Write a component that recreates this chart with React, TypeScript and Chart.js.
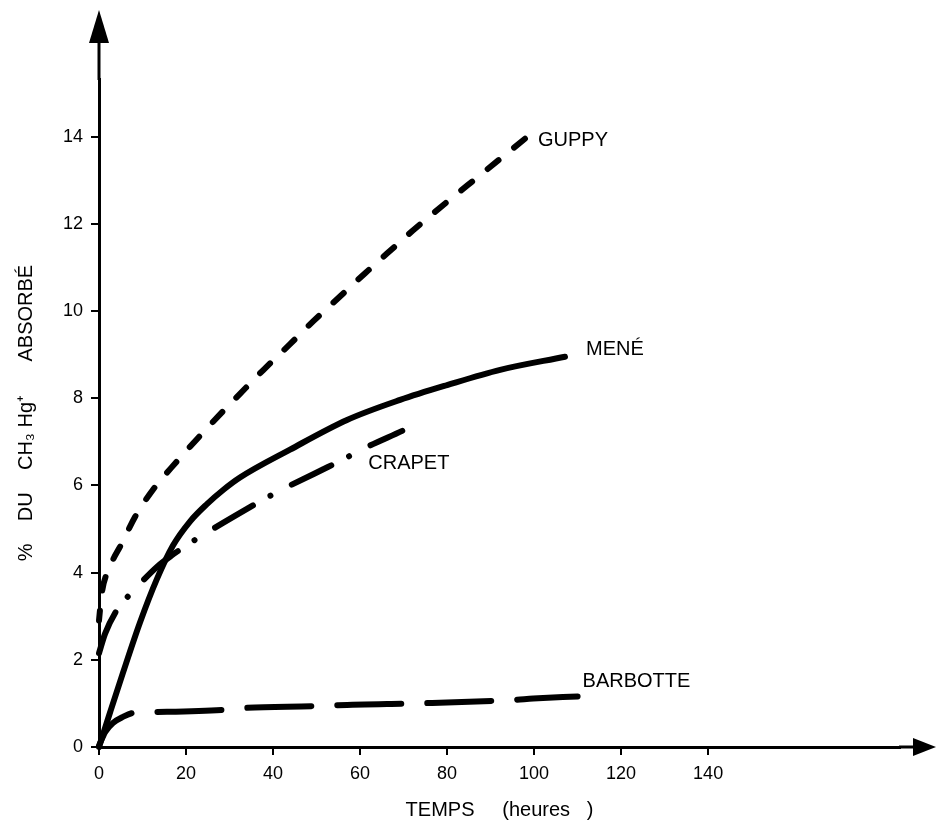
import React, { useEffect, useRef } from "react";
import { Chart, registerables } from "chart.js";

Chart.register(...registerables);

// ---- data ----
const X_TICKS = [0, 20, 40, 60, 80, 100, 120, 140];
const Y_TICKS = [0, 2, 4, 6, 8, 10, 12, 14];

const GUPPY_T = [0, 0.6, 2.5, 5.3, 8.3, 12.4, 17.9, 22.5, 28.3, 32.4, 37.7, 43.9, 49.2, 54.7, 61.1, 66.9, 72.2, 80.7, 86.9, 97.9];
const GUPPY_V = [2.9, 3.5, 4.13, 4.68, 5.28, 5.9, 6.55, 7.06, 7.68, 8.1, 8.64, 9.24, 9.76, 10.27, 10.86, 11.38, 11.85, 12.56, 13.06, 13.95];

const MENE_T = [0, 2.5, 5.5, 9.4, 13.3, 17.0, 20.9, 24.8, 28.6, 32.4, 43.9, 57.0, 69.2, 80.0, 92.2, 107.1];
const MENE_V = [0, 0.78, 1.7, 2.85, 3.85, 4.62, 5.17, 5.57, 5.9, 6.18, 6.82, 7.5, 7.96, 8.3, 8.65, 8.95];

const CRAPET_T = [0, 1.4, 4.1, 6.2, 8.7, 13.3, 16.8, 20.2, 23.2, 34.7, 37.7, 41.6, 52.6, 55.9, 59.3, 69.7];
const CRAPET_V = [2.15, 2.6, 3.14, 3.4, 3.67, 4.13, 4.4, 4.63, 4.82, 5.5, 5.67, 5.88, 6.42, 6.58, 6.77, 7.25];

const BARBOTTE_T = [0, 1.4, 3.2, 5.5, 7.8, 12.4, 28.3, 32.4, 50.1, 54.9, 76.6, 95.2, 99.8, 110];
const BARBOTTE_V = [0.03, 0.34, 0.55, 0.69, 0.78, 0.8, 0.85, 0.89, 0.94, 0.96, 1.01, 1.08, 1.11, 1.16];

const SERIES_NAMES = ["GUPPY", "MENÉ", "CRAPET", "BARBOTTE"];

const X_TITLE = "TEMPS     (heures   )";
const Y_TITLE = "%    DU    CH₃ Hg⁺      ABSORBÉ";

const FONT = "'Liberation Sans', Arial, Helvetica, sans-serif";

const toPoints = (t: number[], v: number[]) => t.map((x, i) => ({ x, y: v[i] }));

// label offsets (pixels) from the last point of each curve
const LABEL_OFFSETS: Record<string, [number, number]> = {
  GUPPY: [13, 2],
  "MENÉ": [21, -7],
  CRAPET: [-34, 33],
  BARBOTTE: [5, -15],
};

const decorPlugin = {
  id: "decor",
  afterDraw(chart: any) {
    const { ctx, chartArea } = chart;
    const xAxisY = chart.scales.y.getPixelForValue(0);
    const yAxisX = chart.scales.x.getPixelForValue(0);
    ctx.save();
    ctx.strokeStyle = "#000";
    ctx.fillStyle = "#000";
    ctx.lineWidth = 3;
    // y-axis extension + arrow
    ctx.beginPath();
    ctx.moveTo(yAxisX, chartArea.top + 1);
    ctx.lineTo(yAxisX, 36);
    ctx.stroke();
    ctx.beginPath();
    ctx.moveTo(yAxisX, 10);
    ctx.lineTo(yAxisX - 10, 43);
    ctx.lineTo(yAxisX + 10, 43);
    ctx.closePath();
    ctx.fill();
    // x-axis extension + arrow
    ctx.beginPath();
    ctx.moveTo(chartArea.right - 1, xAxisY);
    ctx.lineTo(918, xAxisY);
    ctx.stroke();
    ctx.beginPath();
    ctx.moveTo(936, xAxisY);
    ctx.lineTo(913, xAxisY - 9);
    ctx.lineTo(913, xAxisY + 9);
    ctx.closePath();
    ctx.fill();

    // curve labels
    ctx.font = `20px ${FONT}`;
    ctx.textAlign = "left";
    ctx.textBaseline = "middle";
    chart.data.datasets.forEach((ds: any, i: number) => {
      const meta = chart.getDatasetMeta(i);
      const last = meta.data[meta.data.length - 1];
      const off = LABEL_OFFSETS[ds.label] || [10, 0];
      ctx.fillText(ds.label, last.x + off[0], last.y + off[1]);
    });
    ctx.restore();
  },
};

export default function App() {
  const ref = useRef<HTMLCanvasElement | null>(null);

  useEffect(() => {
    if (!ref.current) return;
    const common = {
      borderColor: "#000",
      backgroundColor: "#000",
      borderWidth: 6,
      borderCapStyle: "round" as const,
      borderJoinStyle: "round" as const,
      pointRadius: 0,
      pointHoverRadius: 0,
      cubicInterpolationMode: "monotone" as const,
      fill: false,
      clip: false as any,
    };
    const chart = new Chart(ref.current, {
      type: "line",
      data: {
        datasets: [
          { ...common, label: SERIES_NAMES[0], data: toPoints(GUPPY_T, GUPPY_V), borderDash: [14, 20], borderDashOffset: 4 },
          { ...common, label: SERIES_NAMES[1], data: toPoints(MENE_T, MENE_V) },
          { ...common, label: SERIES_NAMES[2], data: toPoints(CRAPET_T, CRAPET_V), borderDash: [44, 20, 0.01, 24] },
          { ...common, label: SERIES_NAMES[3], data: toPoints(BARBOTTE_T, BARBOTTE_V), borderDash: [64, 26], borderDashOffset: 16 },
        ],
      },
      options: {
        responsive: false,
        animation: false,
        events: [],
        layout: { padding: { top: 79, right: 37, left: 0, bottom: 0 } },
        plugins: {
          legend: { display: false },
          tooltip: { enabled: false },
        },
        scales: {
          x: {
            type: "linear",
            min: 0,
            max: 184.1,
            afterBuildTicks: (s: any) => {
              s.ticks = X_TICKS.map((v) => ({ value: v }));
            },
            afterFit: (s: any) => {
              s.height = 78;
            },
            grid: { display: true, drawOnChartArea: false, drawTicks: true, tickLength: 8, color: "#000", lineWidth: 2 },
            border: { display: true, color: "#000", width: 3 },
            ticks: {
              color: "#000",
              font: { family: FONT, size: 18 },
              padding: 8,
              maxRotation: 0,
              autoSkip: false,
              callback: (v: any) => String(v),
            },
            title: {
              display: true,
              text: X_TITLE,
              color: "#000",
              font: { family: FONT, size: 20 },
              padding: { top: 0, bottom: 3 },
            },
          },
          y: {
            type: "linear",
            min: 0,
            max: 15.32,
            afterBuildTicks: (s: any) => {
              s.ticks = Y_TICKS.map((v) => ({ value: v }));
            },
            afterFit: (s: any) => {
              s.width = 99;
            },
            grid: { display: true, drawOnChartArea: false, drawTicks: true, tickLength: 8, color: "#000", lineWidth: 2 },
            border: { display: true, color: "#000", width: 3 },
            ticks: {
              color: "#000",
              font: { family: FONT, size: 18 },
              padding: 8,
              autoSkip: false,
              callback: (v: any) => String(v),
            },
            title: {
              display: true,
              text: Y_TITLE,
              color: "#000",
              font: { family: FONT, size: 20 },
              padding: { top: 14, bottom: 0 },
            },
          },
        },
      },
      plugins: [decorPlugin],
    });
    return () => chart.destroy();
  }, []);

  return (
    <div style={{ position: "absolute", left: 0, top: 0, width: 937, height: 825, background: "#fff" }}>
      <canvas ref={ref} width={937} height={825} style={{ display: "block", width: 937, height: 825 }} />
    </div>
  );
}
